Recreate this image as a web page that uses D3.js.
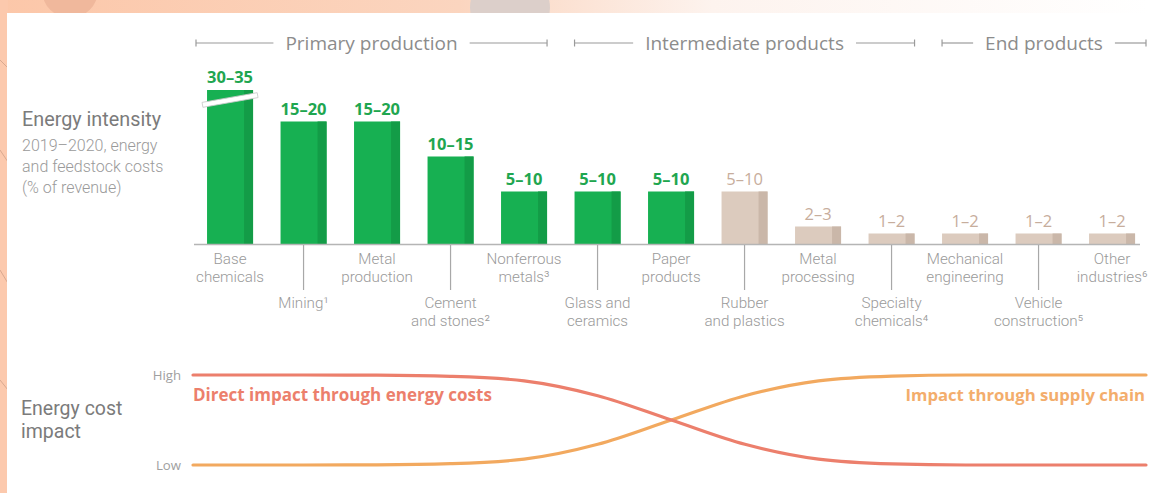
<!DOCTYPE html>
<html>
<head>
<meta charset="utf-8">
<script src="https://cdn.jsdelivr.net/npm/d3@7"></script>
<style>
  html, body { margin: 0; padding: 0; background: #fff; }
  svg { display: block; }
  text { font-family: "Open Sans", "Noto Sans", sans-serif; }
  text.block { font-family: Roboto, "Liberation Sans", sans-serif; }
</style>
</head>
<body>
<svg id="chart" width="1149" height="493"></svg>
<script>
// Industry categories (line breaks mark the label wrapping)
const categories = [
  "Base\nchemicals", "Mining¹", "Metal\nproduction", "Cement\nand stones²",
  "Nonferrous\nmetals³", "Glass and\nceramics", "Paper\nproducts",
  "Rubber\nand plastics", "Metal\nprocessing", "Specialty\nchemicals⁴",
  "Mechanical\nengineering", "Vehicle\nconstruction⁵", "Other\nindustries⁶"
];
// Energy and feedstock costs, % of revenue (range low / high)
const rangeLow  = [30, 15, 15, 10, 5, 5, 5, 5, 2, 1, 1, 1, 1];
const rangeHigh = [35, 20, 20, 15, 10, 10, 10, 10, 3, 2, 2, 2, 2];
// Energy-intensive industries are shown in green
const intensive = [true, true, true, true, true, true, true, false, false, false, false, false, false];

// Value-chain stages: name, first and last category index
const stageNames = ["Primary production", "Intermediate products", "End products"];
const stageFirst = [0, 5, 10];
const stageLast  = [4, 9, 12];

// Energy cost impact along the value chain (1 = high, 0 = low), by category position
const impactPos    = [-0.5, 0, 1, 2, 3, 4, 5, 6, 7, 8, 9, 10, 11, 12, 12.45];
const directImpact = [1, 1, 1, 0.998, 0.985, 0.935, 0.77, 0.5, 0.23, 0.065, 0.012, 0, 0, 0, 0];
const supplyImpact = [0, 0, 0, 0.002, 0.015, 0.065, 0.23, 0.5, 0.77, 0.935, 0.988, 1, 1, 1, 1];
const impactTicks  = ["Low", "High"];

const W = 1149, H = 493;
const svg = d3.select("#chart");

// multi-line text block as a single <text> with one <tspan> per line
function textBlock(parent, x, y, lines, lineH, attrs) {
  const t = parent.append("text").attr("class", "block").attr("x", x).attr("y", y);
  Object.entries(attrs).forEach(([k, v]) => t.attr(k, v));
  lines.forEach((s, k) => t.append("tspan").attr("x", x).attr("dy", k === 0 ? 0 : lineH).text(s));
  return t;
}

// ---- backdrop ----
const defs = svg.append("defs");
const grad = defs.append("linearGradient").attr("id", "topFade").attr("x1", 0).attr("x2", 1);
grad.append("stop").attr("offset", "0%").attr("stop-color", "#fcc7a9");
grad.append("stop").attr("offset", "40%").attr("stop-color", "#fbd5bf");
grad.append("stop").attr("offset", "62%").attr("stop-color", "#fdf3ee");
grad.append("stop").attr("offset", "100%").attr("stop-color", "#ffffff");
svg.append("rect").attr("width", W).attr("height", H).attr("fill", "url(#topFade)");
svg.append("rect").attr("width", 8).attr("height", H).attr("fill", "#fcc9ad");
svg.append("circle").attr("cx", 70).attr("cy", -10).attr("r", 28).attr("fill", "#f0b89c");
svg.append("circle").attr("cx", 510).attr("cy", 8).attr("r", 40).attr("fill", "#dccfca");
[[0, 60, 30, 90], [0, 150, 40, 210], [0, 270, 30, 320], [0, 380, 40, 430]].forEach(d => {
  svg.append("line").attr("x1", d[0]).attr("y1", d[1]).attr("x2", d[2]).attr("y2", d[3])
    .attr("stroke", "#d9a98f").attr("stroke-width", 1);
});
svg.append("rect").attr("x", 7).attr("y", 13).attr("width", W - 7).attr("height", H - 13).attr("fill", "#ffffff");

// ---- scales ----
const n = categories.length;
const x = d3.scaleBand().domain(d3.range(n)).range([193.3, 1148.8])
  .paddingInner(0.374).paddingOuter(0.187);
const bw = x.bandwidth();
const baseY = 244;
const y = d3.scaleLinear().domain([0, 22]).range([baseY, 90]).clamp(true);
const mid = i => (rangeLow[i] + rangeHigh[i]) / 2;

const gray = "#8c8c8c";

// ---- stage headers ----
const headY = 43;
stageNames.forEach((name, s) => {
  const left = s === 0 ? 196 : x(stageFirst[s]);
  const right = s === stageNames.length - 1 ? 1146 : x(stageLast[s]) + bw;
  const g = svg.append("g");
  const t = g.append("text").attr("x", (left + right) / 2).attr("y", headY + 6.5)
    .attr("text-anchor", "middle").attr("font-size", 19).attr("fill", gray).text(name);
  const tw = t.node().getComputedTextLength();
  const cx = (left + right) / 2, gap = 12;
  g.append("line").attr("x1", left).attr("x2", cx - tw / 2 - gap).attr("y1", headY).attr("y2", headY)
    .attr("stroke", "#9a9a9a").attr("stroke-width", 1.2);
  g.append("line").attr("x1", cx + tw / 2 + gap).attr("x2", right).attr("y1", headY).attr("y2", headY)
    .attr("stroke", "#9a9a9a").attr("stroke-width", 1.2);
  [left, right].forEach(px => g.append("line").attr("x1", px).attr("x2", px)
    .attr("y1", headY - 3.5).attr("y2", headY + 3.5).attr("stroke", "#9a9a9a").attr("stroke-width", 1.2));
});

// ---- left titles ----
const titleG = svg.append("g");
textBlock(titleG, 22, 126, ["Energy intensity"], 0, { "font-size": 19.8, "fill": "#7b7b7b" });
textBlock(titleG, 22, 151, ["2019–2020, energy", "and feedstock costs", "(% of revenue)"], 21,
  { "font-size": 16, "fill": "#9a9a9a", "font-weight": 300 });
textBlock(titleG, 21, 415, ["Energy cost", "impact"], 23, { "font-size": 19.5, "fill": "#7b7b7b" });

// ---- bars ----
const barG = svg.append("g");
const side = 9;
d3.range(n).forEach(i => {
  const main = intensive[i] ? "#17b052" : "#dccbbe";
  const dark = intensive[i] ? "#139c47" : "#cab7a9";
  const top = y(mid(i));
  barG.append("rect").attr("x", x(i)).attr("y", top).attr("width", bw).attr("height", baseY - top).attr("fill", main);
  barG.append("rect").attr("x", x(i) + bw - side).attr("y", top).attr("width", side).attr("height", baseY - top).attr("fill", dark);
  barG.append("text").attr("x", x(i) + bw / 2).attr("y", top - 7).attr("text-anchor", "middle")
    .attr("font-size", 16.5).attr("font-weight", intensive[i] ? 700 : 400)
    .attr("fill", intensive[i] ? "#1fa650" : "#c7ad9c")
    .text(`${rangeLow[i]}–${rangeHigh[i]}`);
  // axis break where the value exceeds the drawn range
  if (mid(i) > y.domain()[1]) {
    const cx = x(i) + bw / 2, cy = top + 10;
    const br = barG.append("g").attr("transform", `translate(${cx},${cy}) rotate(-10)`);
    br.append("rect").attr("x", -28).attr("y", -2.5).attr("width", 56).attr("height", 5)
      .attr("fill", "#ffffff").attr("stroke", "#c9c9c9").attr("stroke-width", 0.8);
  }
});

// baseline
svg.append("line").attr("x1", 194).attr("x2", 1140).attr("y1", baseY + 0.5).attr("y2", baseY + 0.5)
  .attr("stroke", "#b5b5b5").attr("stroke-width", 1.3);

// ---- category labels (alternating rows) ----
const labelG = svg.append("g");
d3.range(n).forEach(i => {
  const cx = x(i) + bw / 2;
  const lower = i % 2 === 1;
  if (lower) {
    labelG.append("line").attr("x1", cx).attr("x2", cx).attr("y1", baseY + 1).attr("y2", 290)
      .attr("stroke", "#a8a8a8").attr("stroke-width", 1.2);
  }
  textBlock(labelG, cx, lower ? 308 : 263.5, categories[i].split("\n"), 18,
    { "text-anchor": "middle", "font-size": 15.2, "fill": "#9a9a9a", "font-weight": 300 });
});

// ---- energy cost impact curves ----
const xi = d3.scaleLinear().domain([-0.5, 12.45]).range([193, 1146]);
const yi = d3.scaleLinear().domain([0, 1]).range([465, 375]);
impactTicks.forEach((t, k) => {
  svg.append("text").attr("x", 181).attr("y", yi(k) + 4.5).attr("text-anchor", "end")
    .attr("font-size", 13.2).attr("fill", "#a0a0a0").text(t);
});
const line = d3.line().x(d => xi(d[0])).y(d => yi(d[1])).curve(d3.curveMonotoneX);
svg.append("path").datum(impactPos.map((p, i) => [p, supplyImpact[i]])).attr("d", line)
  .attr("fill", "none").attr("stroke", "#f2a95f").attr("stroke-width", 3.2).attr("stroke-linecap", "round");
svg.append("path").datum(impactPos.map((p, i) => [p, directImpact[i]])).attr("d", line)
  .attr("fill", "none").attr("stroke", "#ec7f6c").attr("stroke-width", 3.2).attr("stroke-linecap", "round");

svg.append("text").attr("x", 193).attr("y", 401).attr("font-size", 17).attr("font-weight", 700)
  .attr("fill", "#ec7f6c").text("Direct impact through energy costs");
svg.append("text").attr("x", 1145).attr("y", 401).attr("text-anchor", "end").attr("font-size", 16.7).attr("font-weight", 700)
  .attr("fill", "#f3ad6c").text("Impact through supply chain");
</script>
</body>
</html>
